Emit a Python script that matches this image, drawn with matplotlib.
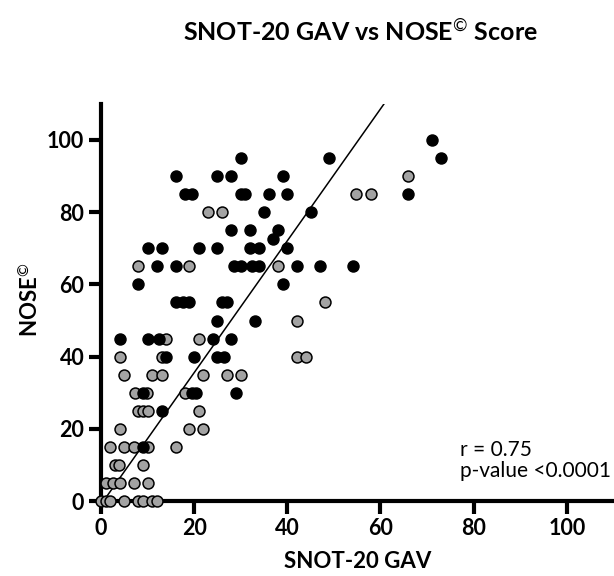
import matplotlib
matplotlib.use("Agg")
import matplotlib.pyplot as plt

plt.rcParams['font.family'] = ['Lato', 'DejaVu Sans']
plt.rcParams['mathtext.fontset'] = 'custom'
plt.rcParams['mathtext.rm'] = 'Lato'
plt.rcParams['mathtext.bf'] = 'Lato:bold'

# Group 1 (black markers)
black_x = [16, 25, 28, 39,
           18, 19.5, 30, 31, 36, 40, 66,
           30, 49, 73,
           71,
           35, 45,
           28, 32, 38,
           37,
           25, 32, 34, 40, 10, 13, 21,
           28.5, 30, 32.5, 34, 42, 47, 54, 12, 16,
           39, 8,
           26, 27, 16, 17.5, 19,
           25, 33,
           24, 28, 4, 10, 12.5,
           25, 26.5, 14, 20,
           29, 9, 19.5, 20.5,
           13,
           9]
black_y = [90, 90, 90, 90,
           85, 85, 85, 85, 85, 85, 85,
           95, 95, 95,
           100,
           80, 80,
           75, 75, 75,
           72.5,
           70, 70, 70, 70, 70, 70, 70,
           65, 65, 65, 65, 65, 65, 65, 65, 65,
           60, 60,
           55, 55, 55, 55, 55,
           50, 50,
           45, 45, 45, 45, 45,
           40, 40, 40, 40,
           30, 30, 30, 30,
           25,
           15]

# Group 2 (grey markers)
grey_x = [23, 26,
          54.7, 58,
          66,
          38, 8, 19,
          48,
          42,
          42, 44,
          27, 30,
          14, 21,
          4, 13,
          5, 11, 13, 22,
          7.2, 9.8, 18,
          8, 9, 10, 21,
          4, 19, 22,
          1.9, 5, 7, 10, 16,
          2.9, 3.9, 9,
          1, 2.6, 4, 7, 10,
          0, 1, 2, 5, 8, 9, 11, 12]
grey_y = [80, 80,
          85, 85,
          90,
          65, 65, 65,
          55,
          50,
          40, 40,
          35, 35,
          45, 45,
          40, 40,
          35, 35, 35, 35,
          30, 30, 30,
          25, 25, 25, 25,
          20, 20, 20,
          15, 15, 15, 15, 15,
          10, 10, 10,
          5, 5, 5, 5, 5,
          0, 0, 0, 0, 0, 0, 0, 0]

# Regression line
fit_slope = 1.824
fit_intercept = -0.9

x_ticks = [0, 20, 40, 60, 80, 100]
y_ticks = [0, 20, 40, 60, 80, 100]

fig = plt.figure(figsize=(6.14, 5.76), dpi=100)
ax = fig.add_axes([0.1645, 0.1297, 0.8344, 0.6903])
ax.set_xlim(0, 110)
ax.set_ylim(0, 110)

ax.scatter(grey_x, grey_y, s=62, facecolor='#a3a3a3', edgecolor='black',
           linewidth=1.1, zorder=3, clip_on=False)
ax.scatter(black_x, black_y, s=62, facecolor='black', edgecolor='black',
           linewidth=1.1, zorder=4, clip_on=False)

ax.axline((0, fit_intercept), slope=fit_slope, color='black', lw=1.1, zorder=2)

for s in ['top', 'right']:
    ax.spines[s].set_visible(False)
for s in ['left', 'bottom']:
    ax.spines[s].set_linewidth(3)
    ax.spines[s].set_capstyle('projecting')

ax.set_xticks(x_ticks)
ax.set_yticks(y_ticks)
ax.tick_params(direction='out', length=9, width=3, labelsize=15.5, pad=3)
for lab in ax.get_xticklabels() + ax.get_yticklabels():
    lab.set_fontweight('bold')

fig.text(358/614, 1 - 562/576, 'SNOT-20 GAV', ha='center', va='center',
         fontsize=16, fontweight='bold')
fig.text(30/614, 1 - 300/576, r'NOSE$^{\mathrm{©}}$', ha='center', va='center',
         rotation=90, fontsize=16, fontweight='bold')

fig.text(360/614, 1 - 32/576, r'SNOT-20 GAV vs NOSE$^{\mathrm{©}}$ Score', ha='center', va='center',
         fontsize=18, fontweight='bold')

fig.text(460/614, 1 - 456/576, 'r = 0.75', ha='left', va='baseline', fontsize=15)
fig.text(460/614, 1 - 477/576, 'p-value <0.0001', ha='left', va='baseline', fontsize=15)

fig.savefig('out.png', dpi=100)
